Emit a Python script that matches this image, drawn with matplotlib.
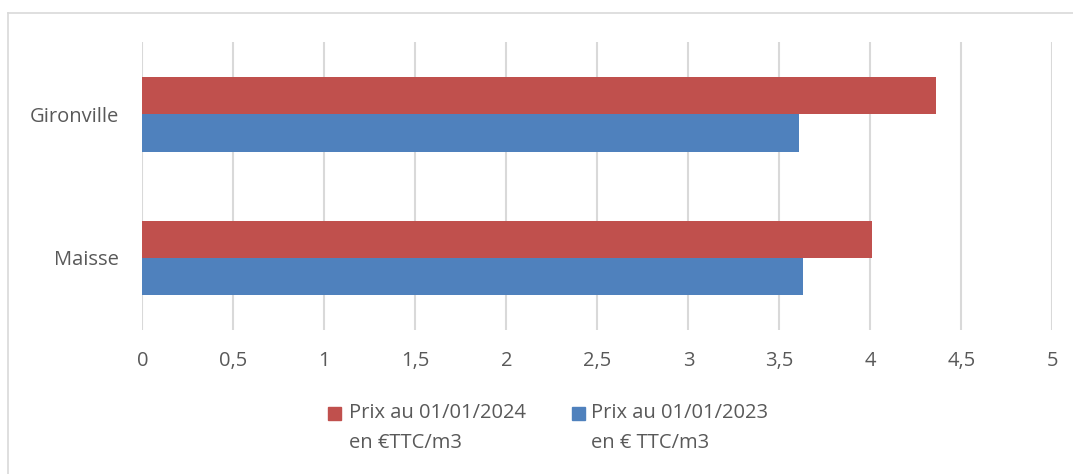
import matplotlib.pyplot as plt
from matplotlib.lines import Line2D
from matplotlib.patches import Rectangle

communes = ["Maisse", "Gironville"]
prix_2024 = [4.01, 4.36]
prix_2023 = [3.63, 3.61]
labels = ["Prix au 01/01/2024\nen €TTC/m3", "Prix au 01/01/2023\nen € TTC/m3"]
x_ticks = [0, 0.5, 1, 1.5, 2, 2.5, 3, 3.5, 4, 4.5, 5]
x_ticklabels = ["0", "0,5", "1", "1,5", "2", "2,5", "3", "3,5", "4", "4,5", "5"]

red = "#c0504d"
blue = "#4f81bd"
grey_text = "#595959"
fs = 14.5

plt.rcParams['font.family'] = ['Open Sans', 'DejaVu Sans']

W, H = 1073, 474
fig = plt.figure(figsize=(W / 100, H / 100), dpi=100)
ax = fig.add_axes([0.1328, 0.304, 0.848, 0.607])

h = 0.26
ypos = list(range(len(communes)))
ax.barh([y + h / 2 for y in ypos], prix_2024, height=h, color=red, zorder=3)
ax.barh([y - h / 2 for y in ypos], prix_2023, height=h, color=blue, zorder=3)

ax.set_xlim(0, 5)
ax.set_ylim(-0.5, 1.5)
ax.set_xticks(x_ticks)
ax.set_xticklabels(x_ticklabels)
ax.set_yticks(ypos)
ax.set_yticklabels(communes)
ax.tick_params(length=0, labelsize=fs, labelcolor=grey_text)
ax.tick_params(axis='x', pad=15)
ax.tick_params(axis='y', pad=17)
ax.grid(axis='x', color='#d9d9d9', linewidth=1.5, zorder=0)
for s in ax.spines.values():
    s.set_visible(False)

# legend drawn by hand: square aligned with first line, wide line spacing
legend_items = [(328, 349, red, labels[0]), (572, 591, blue, labels[1])]
for sq_x, txt_x, col, lab in legend_items:
    fig.add_artist(Rectangle((sq_x / W, 1 - 420 / H), 13 / W, 13 / H,
                             transform=fig.transFigure, color=col))
    for i, line in enumerate(lab.split("\n")):
        fig.text(txt_x / W, 1 - (413 + 30 * i) / H, line, fontsize=fs,
                 color=grey_text, va='center', ha='left')

# chart border (top and left only visible)
fig.add_artist(Line2D([8 / W, 1], [1 - 12.5 / H, 1 - 12.5 / H],
                      transform=fig.transFigure, color='#d9d9d9', linewidth=1.2))
fig.add_artist(Line2D([8 / W, 8 / W], [0, 1 - 12.5 / H],
                      transform=fig.transFigure, color='#d9d9d9', linewidth=1.2))

fig.savefig("out.png", dpi=100)
